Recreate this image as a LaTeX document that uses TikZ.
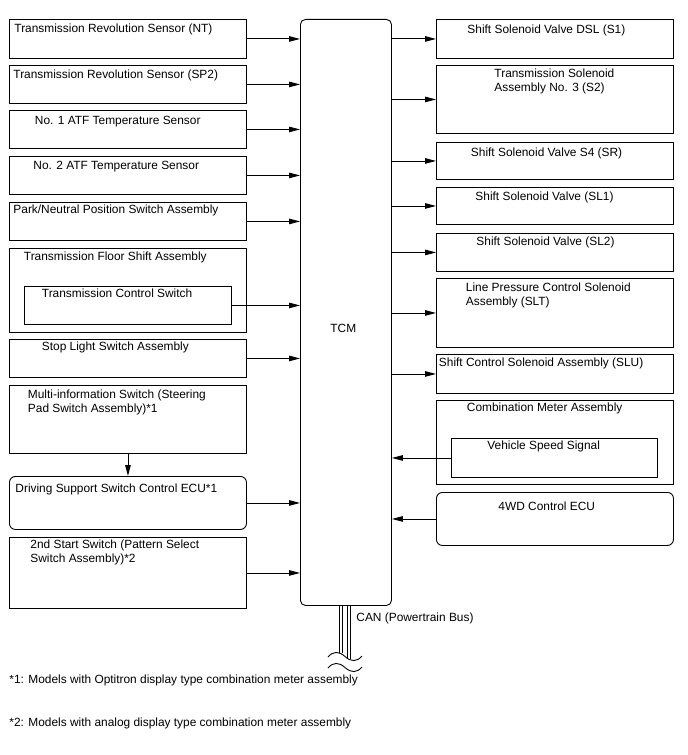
\documentclass[tikz,border=0pt]{standalone}
\usepackage{fontspec}
\setmainfont{Liberation Sans}
\usetikzlibrary{arrows.meta}
\tikzset{
  blk/.style={draw, anchor=north west, inner sep=0pt, minimum width=237bp},
  lbl/.style={anchor=base west, inner sep=0pt, align=left, font=\fontsize{11.9bp}{14.2bp}\selectfont},
  lbll/.style={lbl, anchor=north west},
}
\begin{document}
\begin{tikzpicture}[x=1bp, y=-1bp, line width=0.9bp, >={Triangle[length=11bp,width=5.5bp]}]
  \useasboundingbox (0,0) rectangle (688,755);
  \node[blk, minimum height=39bp] (nt) at (9,19) {};
  \node[blk, minimum height=38bp] (sp) at (9,65) {};
  \node[blk, minimum height=38bp] (atfa) at (9,110) {};
  \node[blk, minimum height=38bp] (atfb) at (9,156) {};
  \node[blk, minimum height=38bp] (pnp) at (9,202) {};
  \node[blk, minimum height=84bp] (flr) at (9,248) {};
  \node[blk, minimum width=207bp, minimum height=38bp] (tcs) at (24,286) {};
  \node[blk, minimum height=38bp] (stop) at (9,339) {};
  \node[blk, minimum height=68bp] (minfo) at (9,385) {};
  \node[blk, rounded corners=6bp, minimum height=53bp] (dss) at (9,476) {};
  \node[blk, minimum height=71bp] (sss) at (9,537) {};
  \node[blk, rounded corners=5bp, minimum width=91bp, minimum height=586bp] (tcm) at (300,19) {};
  \node[blk, minimum height=39bp] (dsl) at (436,19) {};
  \node[blk, minimum height=68bp] (stwo) at (436,65) {};
  \node[blk, minimum height=37bp] (sr) at (436,142) {};
  \node[blk, minimum height=37bp] (slone) at (436,187) {};
  \node[blk, minimum height=38bp] (sltwo) at (436,233) {};
  \node[blk, minimum height=69bp] (slt) at (436,278) {};
  \node[blk, minimum height=39bp] (slu) at (436,354) {};
  \node[blk, minimum height=84bp] (meter) at (436,400) {};
  \node[blk, minimum width=206bp, minimum height=39bp] (spd) at (451,438) {};
  \node[blk, rounded corners=6bp, minimum height=53bp] (fwd) at (436,492) {};

  \node[lbl] (ntt) at (14,33) {Transmission Revolution Sensor (NT)};
  \node[lbl] (spt) at (13,78) {Transmission Revolution Sensor (SP2)};
  \node[lbl] (atfat) at (34.5,124) {No. 1 ATF Temperature Sensor};
  \node[lbl] (atfbt) at (33,169.5) {No. 2 ATF Temperature Sensor};
  \node[lbl] (pnpt) at (13,213.5) {Park/Neutral Position Switch Assembly};
  \node[lbl] (flrt) at (23.5,260.7) {Transmission Floor Shift Assembly};
  \node[lbl] (tcst) at (41.5,297.7) {Transmission Control Switch};
  \node[lbl] (stopt) at (41.5,350.7) {Stop Light Switch Assembly};
  \node[lbll] (minfot) at (27.5,389) {Multi-information Switch (Steering\\Pad Switch Assembly)*1};
  \node[lbl] (dsst) at (15,492.7) {Driving Support Switch Control ECU*1};
  \node[lbll] (ssst) at (30,539.6) {2nd Start Switch (Pattern Select\\Switch Assembly)*2};
  \node[lbl] (tcmt) at (330,332) {TCM};
  \node[lbl] (dslt) at (467,33.3) {Shift Solenoid Valve DSL (S1)};
  \node[lbll] (stwot) at (494,68.6) {Transmission Solenoid\\Assembly No. 3 (S2)};
  \node[lbl] (srt) at (470.5,156) {Shift Solenoid Valve S4 (SR)};
  \node[lbl] (slonet) at (475,200) {Shift Solenoid Valve (SL1)};
  \node[lbl] (sltwot) at (476,245) {Shift Solenoid Valve (SL2)};
  \node[lbll] (sltt) at (465.5,282) {Line Pressure Control Solenoid\\Assembly (SLT)};
  \node[lbl] (slut) at (438.5,366) {Shift Control Solenoid Assembly (SLU)};
  \node[lbl] (metert) at (466.5,411.7) {Combination Meter Assembly};
  \node[lbl] (spdt) at (487,449.3) {Vehicle Speed Signal};
  \node[lbl] (fwdt) at (498,510) {4WD Control ECU};
  \node[lbl] (can) at (356,621.7) {CAN (Powertrain Bus)};
  \node[lbl] (fna) at (9,683.3) {*1: Models with Optitron display type combination meter assembly};
  \node[lbl] (fnb) at (9,726.7) {*2: Models with analog display type combination meter assembly};

  \foreach \n in {nt,sp,atfa,atfb,pnp,tcs,stop,dss,sss}
    \draw[->] (\n.east) -- (\n.east -| tcm.west);
  \foreach \n in {dsl,stwo,sr,slone,sltwo,slt,slu}
    \draw[->] (tcm.east |- \n.west) -- (\n.west);
  \foreach \n in {spd,fwd}
    \draw[->] (\n.west) -- (\n.west -| tcm.east);
  \draw[->] (minfo.south) -- (dss.north);

  \coordinate (cana) at (339,653);
  \coordinate (canb) at (342.5,653);
  \coordinate (canc) at (347,659);
  \coordinate (cand) at (350.5,659);
  \foreach \c in {cana,canb,canc,cand}
    \draw (\c |- tcm.south) -- (\c);
  \draw (328,657) .. controls (333,651) and (339,651) .. (345,656.5) .. controls (351,662) and (357,662) .. (362,656);
  \draw (328,668) .. controls (333,662) and (339,662) .. (345,667.5) .. controls (351,673) and (357,673) .. (362,667);
\end{tikzpicture}
\end{document}
